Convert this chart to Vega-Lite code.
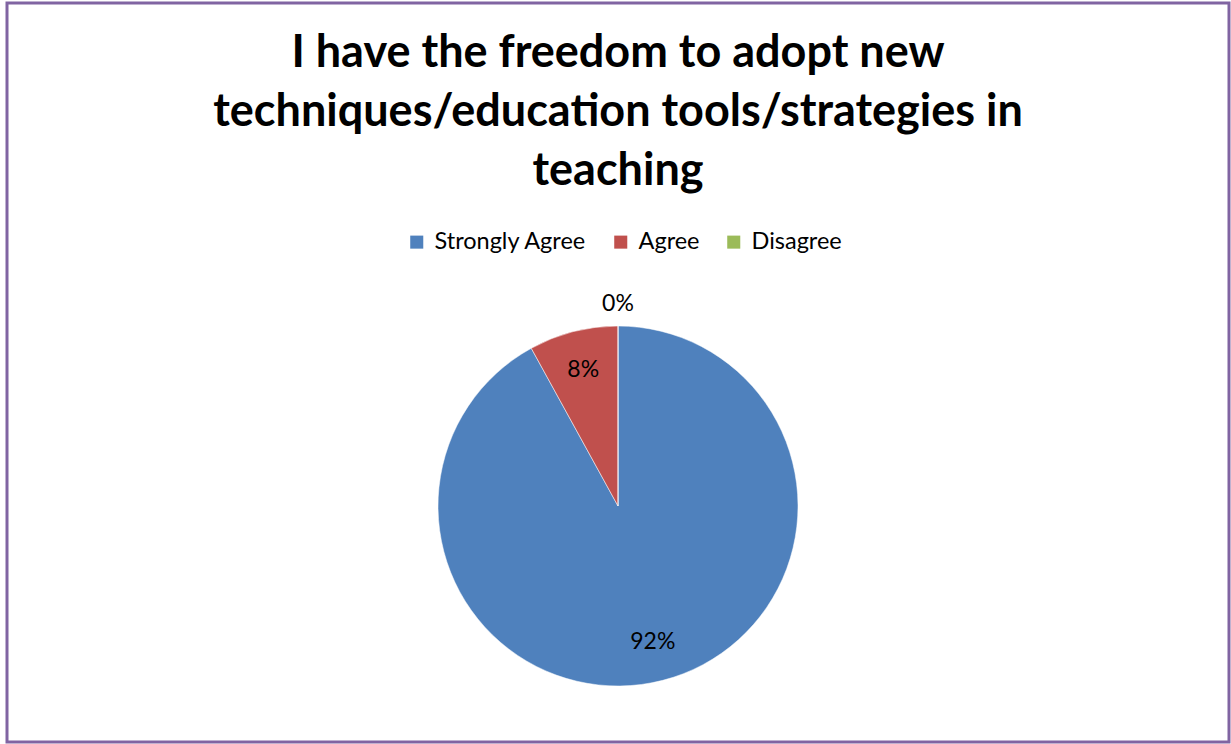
{
  "$schema": "https://vega.github.io/schema/vega-lite/v6.json",
  "width": 1222,
  "height": 739,
  "autosize": {"type": "none"},
  "padding": {"left": 7, "top": 3, "right": 2, "bottom": 2},
  "background": "white",
  "view": {"stroke": "#8064A2", "strokeWidth": 3, "fill": "white"},
  "config": {
    "font": "Lato"
  },
  "title": {
    "text": ["I have the freedom to adopt new", "techniques/education tools/strategies in", "teaching"],
    "orient": "top",
    "anchor": "middle",
    "frame": "group",
    "baseline": "top",
    "offset": -191,
    "font": "Lato",
    "fontSize": 45,
    "fontWeight": "bold",
    "color": "black",
    "lineHeight": 59
  },
  "data": {
    "values": [
      {"response": "Strongly Agree", "percent": 92, "label": "92%", "rank": 1},
      {"response": "Agree", "percent": 8, "label": "8%", "rank": 2},
      {"response": "Disagree", "percent": 0, "label": "0%", "rank": 3}
    ]
  },
  "encoding": {
    "theta": {"field": "percent", "type": "quantitative", "stack": true},
    "order": {"field": "rank", "type": "quantitative"}
  },
  "layer": [
    {
      "mark": {"type": "arc", "outerRadius": 180, "yOffset": 133.5, "stroke": "white", "strokeWidth": 0.5},
      "encoding": {
        "color": {
          "field": "response",
          "type": "nominal",
          "sort": ["Strongly Agree", "Agree", "Disagree"],
          "scale": {"domain": ["Strongly Agree", "Agree", "Disagree"], "range": ["#4F81BD", "#C0504D", "#9BBB59"]},
          "legend": {
            "title": null,
            "orient": "none",
            "direction": "horizontal",
            "legendX": 398,
            "legendY": 227,
            "symbolType": "square",
            "symbolSize": 170,
            "symbolStrokeWidth": 0,
            "labelFont": "Lato",
            "labelFontSize": 23.5,
            "labelColor": "black",
            "columnPadding": 22,
            "labelOffset": 6
          }
        }
      }
    },
    {
      "transform": [{"filter": "datum.percent > 0"}],
      "mark": {"type": "text", "radius": 140, "yOffset": 133.5, "fontSize": 23, "font": "Lato", "color": "black", "baseline": "middle", "align": "center"},
      "encoding": {"text": {"field": "label"}}
    },
    {
      "transform": [{"filter": "datum.percent == 0"}],
      "mark": {"type": "text", "radius": 202, "yOffset": 133.5, "fontSize": 23, "font": "Lato", "color": "black", "baseline": "middle", "align": "center"},
      "encoding": {"text": {"field": "label"}}
    }
  ]
}
